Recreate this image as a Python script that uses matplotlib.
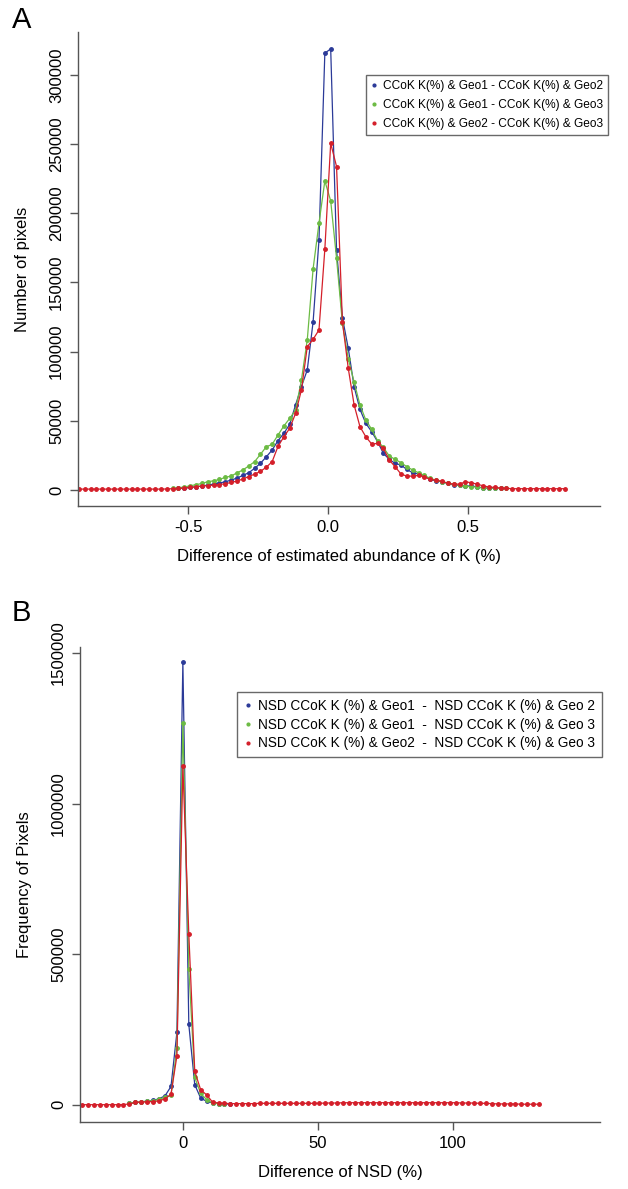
import numpy as np
import matplotlib
matplotlib.use("Agg")
from matplotlib import pyplot as plt

plt.rcParams["font.family"] = ["Liberation Sans", "DejaVu Sans"]

# ---- panel A: difference of estimated K abundance ----
a_x = np.linspace(-0.89, 0.845, 84)

# values in pixels counts (thousands)
a_red = [0.7, 0.7, 0.7, 0.7, 0.7, 0.7, 0.7, 0.7, 0.7, 0.7,
         0.7, 0.7, 0.7, 0.7, 0.7, 0.8, 1.0, 1.2, 1.5, 1.9,
         2.4, 2.9, 3.2, 3.6, 4.0, 4.6, 5.5, 6.5, 8.0, 9.8,
         11.5, 13.5, 16.5, 20.5, 31.5, 38.5, 44.6, 55.4, 72.3, 103.6,
         109.0, 115.7, 174.0, 250.6, 233.8, 121.7, 88.0, 61.5, 45.8, 38.5,
         33.3, 33.7, 30.1, 21.7, 16.9, 11.6, 10.1, 10.1, 10.6, 9.6,
         7.7, 7.2, 6.3, 5.0, 4.3, 4.3, 6.0, 5.3, 4.3, 3.1,
         2.2, 1.9, 1.5, 1.3, 1.0, 1.0, 1.0, 1.0, 1.0, 1.0,
         1.0, 1.0, 1.0, 1.0]

a_blue_start = 17
a_blue = [1.2, 1.4, 1.9, 2.4, 2.9, 3.6, 4.3, 5.1, 6.0, 7.2,
          8.7, 10.6, 12.5, 15.7, 19.3, 24.0, 28.9, 35.7, 41.0, 47.5,
          61.5, 74.7, 86.8, 121.7, 180.7, 315.7, 318.8, 173.5, 124.6, 102.4,
          74.7, 58.3, 48.2, 42.2, 35.0, 26.5, 22.2, 19.3, 18.1, 14.9,
          12.5, 11.6, 10.1, 7.7, 6.7, 6.0, 4.8, 3.6, 3.4, 3.1,
          2.9, 2.4, 1.4, 1.4, 1.4, 1.2]

a_green_start = 16
a_green = [1.2, 1.7, 2.2, 3.1, 3.9, 4.8, 6.0, 6.7, 7.7, 9.2,
           10.1, 12.5, 14.5, 17.4, 20.5, 25.8, 31.3, 33.0, 39.8, 46.3,
           51.8, 57.8, 79.5, 108.5, 160.0, 192.8, 223.4, 209.0, 167.5, 120.5,
           95.0, 78.0, 61.5, 50.6, 43.9, 35.7, 30.8, 24.6, 22.2, 19.8,
           16.9, 14.5, 12.5, 10.6, 8.4, 7.2, 6.0, 4.8, 4.1, 3.4,
           2.9, 2.4, 2.2, 1.7, 1.4, 1.4, 1.2, 1.2]

a_labels = ["CCoK K(%) & Geo1 - CCoK K(%) & Geo2",
            "CCoK K(%) & Geo1 - CCoK K(%) & Geo3",
            "CCoK K(%) & Geo2 - CCoK K(%) & Geo3"]

# ---- panel B: difference of NSD ----
b_x = np.linspace(-37.4, 132.0, 78)

b_red = [0.5, 0.5, 0.5, 0.5, 0.5, 0.5, 0.5, 1.0, 3.0, 8.0,
         9.0, 10.0, 11.0, 13.0, 20.0, 35.0, 163.0, 1125.0, 567.0, 111.0,
         50.0, 33.0, 9.0, 6.0, 5.0, 4.0, 4.0, 4.0, 4.0, 4.0,
         5.0, 5.0, 5.0, 5.0, 5.0, 5.0, 5.0, 5.0, 5.0, 5.0,
         5.0, 6.0, 6.0, 6.0, 7.0, 7.0, 7.0, 7.0, 7.0, 7.0,
         7.0, 7.0, 7.0, 7.0, 7.0, 7.0, 7.0, 7.0, 7.0, 7.0,
         7.0, 7.0, 7.0, 7.0, 6.0, 6.0, 6.0, 5.0, 5.0, 4.0,
         3.0, 3.0, 3.0, 3.0, 2.0, 2.0, 2.0, 2.0]

b_blue_start = 8
b_blue = [6.0, 8.0, 10.0, 12.0, 15.0, 20.0, 30.0, 61.0, 241.0, 1470.0,
          267.0, 67.0, 22.0, 12.0, 6.0, 4.0, 3.0, 2.0]

b_green_start = 8
b_green = [5.0, 8.0, 10.0, 12.0, 14.0, 18.0, 25.0, 31.0, 190.0, 1268.0,
           451.0, 91.0, 38.0, 17.0, 6.0, 4.0, 3.0]

b_labels = ["NSD CCoK K (%) & Geo1  -  NSD CCoK K (%) & Geo 2",
            "NSD CCoK K (%) & Geo1  -  NSD CCoK K (%) & Geo 3",
            "NSD CCoK K (%) & Geo2  -  NSD CCoK K (%) & Geo 3"]

BLUE = "#2b3a98"
GREEN = "#6cbb44"
RED = "#d41f2a"

W, H = 628, 1189
fig = plt.figure(figsize=(W / 100, H / 100), dpi=100)


def px_axes(left, top, right, bottom):
    return fig.add_axes([left / W, 1 - bottom / H, (right - left) / W, (bottom - top) / H])


def draw_series(ax, x, start, vals, color, label):
    xs = x[start:start + len(vals)]
    ys = np.array(vals) * 1000
    ax.plot(xs, ys, "-", color=color, lw=0.9, marker="o", ms=2.5,
            mec=color, mfc=color, label=label)


def style_axes(ax):
    for s in ["top", "right"]:
        ax.spines[s].set_visible(False)
    for s in ["left", "bottom"]:
        ax.spines[s].set_color("#555555")
        ax.spines[s].set_linewidth(1.0)
    ax.tick_params(direction="out", length=6, width=1.0, color="#555555",
                   labelsize=12, pad=4)
    for lab in ax.get_yticklabels():
        lab.set_rotation(90)
        lab.set_va("center")


def add_legend(ax, left_px, top_px, ax_left, ax_top, ax_w, ax_h, size,
               pad=0.5, spacing=0.35):
    leg = ax.legend(loc="upper left",
                    bbox_to_anchor=((left_px - ax_left) / ax_w, 1 - (top_px - ax_top) / ax_h),
                    fontsize=size, frameon=True, fancybox=False, markerscale=0.8,
                    handlelength=0.6, handletextpad=0.45, borderpad=pad,
                    labelspacing=spacing, borderaxespad=0)
    leg.get_frame().set_edgecolor("#444444")
    leg.get_frame().set_linewidth(1.0)
    for h in leg.get_lines():
        h.set_linestyle("none")


# panel A
axA = px_axes(78, 32, 600, 506)
draw_series(axA, a_x, a_blue_start, a_blue, BLUE, a_labels[0])
draw_series(axA, a_x, a_green_start, a_green, GREEN, a_labels[1])
draw_series(axA, a_x, 0, a_red, RED, a_labels[2])
axA.set_xlim(-0.893, 0.97)
axA.set_ylim(-11500, 331000)
axA.set_xticks([-0.5, 0.0, 0.5])
axA.set_xticklabels(["-0.5", "0.0", "0.5"])
axA.set_yticks([0, 50000, 100000, 150000, 200000, 250000, 300000])
axA.set_yticklabels(["0", "50000", "100000", "150000", "200000", "250000", "300000"])
style_axes(axA)
axA.set_xlabel("Difference of estimated abundance of K (%)", fontsize=12, labelpad=10)
axA.set_ylabel("Number of pixels", fontsize=12, labelpad=14)
add_legend(axA, 366, 75, 78, 32, 522, 474, 8.6, pad=0.4, spacing=0.6)
fig.text(12 / W, 1 - 20 / H, "A", fontsize=21, va="center", ha="left")

# panel B
axB = px_axes(80, 647, 600, 1122)
draw_series(axB, b_x, b_blue_start, b_blue, BLUE, b_labels[0])
draw_series(axB, b_x, b_green_start, b_green, GREEN, b_labels[1])
draw_series(axB, b_x, 0, b_red, RED, b_labels[2])
axB.set_xlim(-38.1, 154.5)
axB.set_ylim(-57000, 1520000)
axB.set_xticks([0, 50, 100])
axB.set_yticks([0, 500000, 1000000, 1500000])
axB.set_yticklabels(["0", "500000", "1000000", "1500000"])
style_axes(axB)
axB.set_xlabel("Difference of NSD (%)", fontsize=12, labelpad=10)
axB.set_ylabel("Frequency of Pixels", fontsize=12, labelpad=14)
add_legend(axB, 237, 692, 80, 647, 520, 475, 9.8)
fig.text(12 / W, 1 - 613 / H, "B", fontsize=21, va="center", ha="left")

fig.savefig("out.png", dpi=100)
